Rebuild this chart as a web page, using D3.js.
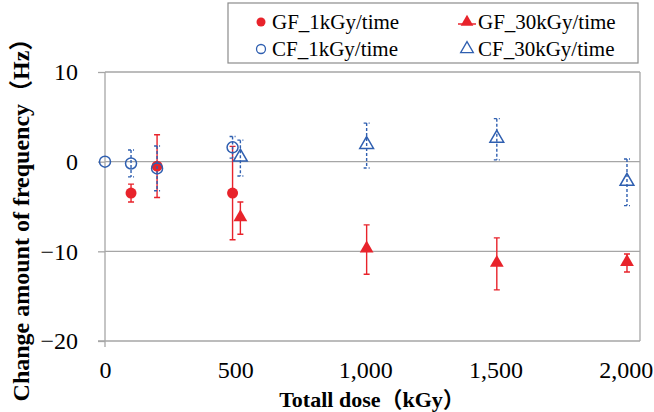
<!DOCTYPE html>
<html><head><meta charset="utf-8">
<script src="https://cdn.jsdelivr.net/npm/d3@7"></script>
<style>body{margin:0;background:#fff}svg{display:block}</style>
</head><body>
<svg id="c" width="654" height="412"></svg>
<script>
// ---- data ----
const gf1Dose = [100, 200, 490];
const gf1Val  = [-3.5, -0.5, -3.5];
const gf1Err  = [1.0, 3.5, 5.2];

const cf1Dose = [0, 100, 200, 490];
const cf1Val  = [0, -0.2, -0.75, 1.6];
const cf1Err  = [0, 1.5, 2.5, 1.2];

const gf30Dose = [520, 1005, 1505, 2005];
const gf30Val  = [-6.3, -9.8, -11.4, -11.3];
const gf30Err  = [1.8, 2.75, 2.9, 1.0];

const cf30Dose = [520, 1005, 1505, 2005];
const cf30Val  = [0.4, 1.8, 2.5, -2.3];
const cf30Err  = [2.0, 2.5, 2.3, 2.6];

const xTicks = [0, 500, 1000, 1500, 2000];
const yTicks = [10, 0, -10, -20];
const seriesNames = ["GF_1kGy/time", "GF_30kGy/time", "CF_1kGy/time", "CF_30kGy/time"];

const RED = "#e8232b", BLUE = "#2f5fb0", GRID = "#a6a6a6";
const serif = "Liberation Serif, Times New Roman, Noto Sans CJK JP, serif";

const svg = d3.select("#c");
const x = d3.scaleLinear().domain([0, 2055]).range([105, 640]);
const y = d3.scaleLinear().domain([-20, 10]).range([341, 72]);

// gridlines
svg.append("g").selectAll("line").data(yTicks.filter(d => d > -20)).join("line")
  .attr("x1", x(0)).attr("x2", x.range()[1])
  .attr("y1", d => y(d)).attr("y2", d => y(d))
  .attr("stroke", GRID).attr("stroke-width", 1.3);
// border right
svg.append("line").attr("x1", x.range()[1]).attr("x2", x.range()[1])
  .attr("y1", y(10)).attr("y2", y(-20)).attr("stroke", GRID).attr("stroke-width", 1.3);

// y axis
const yAxis = svg.append("g").attr("transform", `translate(${x(0)},0)`)
  .call(d3.axisLeft(y).tickValues(yTicks).tickSize(7).tickPadding(20).tickFormat(d3.format("d")));
yAxis.attr("font-family", null);
yAxis.select(".domain").attr("stroke", GRID).attr("stroke-width", 1.3).attr("d", `M0,${y(10)}V${y(-20)+6}`);
yAxis.selectAll(".tick line").attr("stroke", GRID).attr("stroke-width", 1.3);
yAxis.selectAll("text").style("font-family", serif).style("font-size", "24px").attr("fill", "#000");

// x axis
const xAxis = svg.append("g").attr("transform", `translate(0,${y(-20)})`)
  .call(d3.axisBottom(x).tickValues(xTicks).tickSize(0).tickPadding(20).tickFormat(d3.format(",")));
xAxis.attr("font-family", null);
xAxis.select(".domain").attr("stroke", GRID).attr("stroke-width", 1.3).attr("d", `M${x(0)-7},0H${x.range()[1]}`);
xAxis.selectAll("text").style("font-family", serif).style("font-size", "24px").attr("fill", "#000");

// titles
svg.append("text").attr("x", 372).attr("y", 407).attr("text-anchor", "middle")
  .style("font-family", serif).style("font-size", "22px").attr("font-weight", "bold")
  .text("Totall dose（kGy）");
svg.append("text").attr("transform", "translate(29,214) rotate(-90)").attr("text-anchor", "middle")
  .style("font-family", serif).style("font-size", "24px").attr("font-weight", "bold")
  .text("Change amount of frequency（Hz）");

function errorBars(dose, val, err, color, dashed) {
  const d = dose.map((v, i) => ({x: v, y: val[i], e: err[i]})).filter(p => p.e > 0);
  const g = svg.append("g").attr("stroke", color).attr("stroke-width", 1.4).attr("fill", "none");
  if (dashed) g.attr("stroke-dasharray", "3,2");
  g.selectAll("path").data(d).join("path")
    .attr("d", p => {
      const cx = x(p.x), t = y(p.y + p.e), b = y(p.y - p.e);
      return `M${cx},${t}V${b}M${cx-3},${t}H${cx+3}M${cx-3},${b}H${cx+3}`;
    });
}
const tri = d3.symbol().type(d3.symbolTriangle).size(82);

// GF series
errorBars(gf1Dose, gf1Val, gf1Err, RED, false);
errorBars(gf30Dose, gf30Val, gf30Err, RED, false);
svg.append("g").selectAll("circle").data(gf1Dose).join("circle")
  .attr("cx", (d) => x(d)).attr("cy", (d, i) => y(gf1Val[i])).attr("r", 5.5).attr("fill", RED);
svg.append("g").selectAll("path").data(gf30Dose).join("path")
  .attr("transform", (d, i) => `translate(${x(d)},${y(gf30Val[i]) - 1})`).attr("d", tri).attr("fill", RED);

// CF series
errorBars(cf1Dose, cf1Val, cf1Err, BLUE, true);
errorBars(cf30Dose, cf30Val, cf30Err, BLUE, true);
svg.append("g").selectAll("circle").data(cf1Dose).join("circle")
  .attr("cx", d => x(d)).attr("cy", (d, i) => y(cf1Val[i])).attr("r", 5.5)
  .attr("fill", "none").attr("stroke", BLUE).attr("stroke-width", 1.5);
svg.append("g").selectAll("path").data(cf30Dose).join("path")
  .attr("transform", (d, i) => `translate(${x(d)},${y(cf30Val[i]) - 1})`).attr("d", tri)
  .attr("fill", "none").attr("stroke", BLUE).attr("stroke-width", 1.5);

// legend
const lg = svg.append("g");
lg.append("rect").attr("x", 228).attr("y", 3).attr("width", 410).attr("height", 60)
  .attr("fill", "#fff").attr("stroke", "#8c8c8c").attr("stroke-width", 1.2);
const lpos = [[261, 22], [467, 22], [261, 49], [467, 49]];
seriesNames.forEach((name, i) => {
  const [lx, ly] = lpos[i];
  if (i === 0) lg.append("circle").attr("cx", lx).attr("cy", ly).attr("r", 4.5).attr("fill", RED);
  if (i === 2) lg.append("circle").attr("cx", lx).attr("cy", ly).attr("r", 4.5).attr("fill", "none").attr("stroke", BLUE).attr("stroke-width", 1.3);
  if (i === 1) {
    lg.append("line").attr("x1", lx - 9).attr("x2", lx + 9).attr("y1", ly + 2).attr("y2", ly + 2).attr("stroke", RED).attr("stroke-width", 1.5);
    lg.append("path").attr("transform", `translate(${lx},${ly})`).attr("d", d3.symbol().type(d3.symbolTriangle).size(70)).attr("fill", RED);
  }
  if (i === 3) lg.append("path").attr("transform", `translate(${lx},${ly})`).attr("d", d3.symbol().type(d3.symbolTriangle).size(70)).attr("fill", "none").attr("stroke", BLUE).attr("stroke-width", 1.3);
  lg.append("text").attr("x", lx + 11).attr("y", ly).attr("dy", "0.35em")
    .style("font-family", serif).style("font-size", "21px").attr("fill", "#000").text(name);
});
</script>
</body></html>
